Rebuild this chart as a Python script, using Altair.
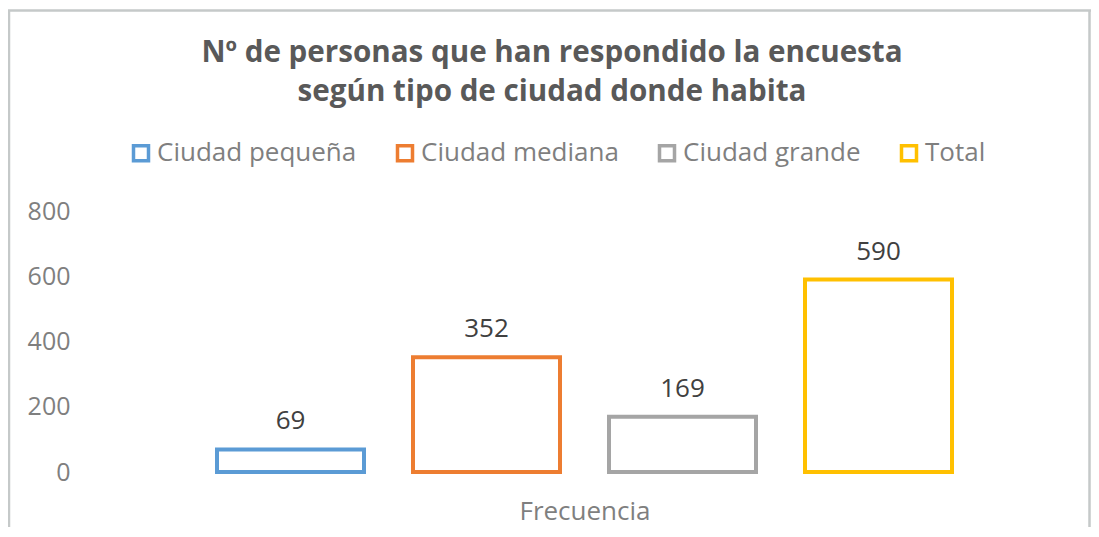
import altair as alt
import pandas as pd

categorias = ["Ciudad pequeña", "Ciudad mediana", "Ciudad grande", "Total"]
valores = [69, 352, 169, 590]
colores = ["#5B9BD5", "#ED7D31", "#A5A5A5", "#FFC000"]
ticks_y = [0, 200, 400, 600, 800]
titulo = ["Nº de personas que han respondido la encuesta",
          "según tipo de ciudad donde habita"]

df = pd.DataFrame({"serie": categorias, "valor": valores})
one_df = pd.DataFrame({"k": [0]})

FONT = "Open Sans"

base = alt.Chart(df)

bars = base.mark_bar(fill="white", strokeWidth=4).encode(
    x=alt.X(
        "serie:N",
        sort=categorias,
        scale=alt.Scale(paddingInner=0.25, paddingOuter=0.5),
        axis=alt.Axis(
            title="Frecuencia",
            labels=False,
            ticks=False,
            domain=False,
            grid=False,
            titleFont=FONT,
            titleFontSize=26,
            titleFontWeight="normal",
            titleColor="#7f7f7f",
            titlePadding=26,
        ),
    ),
    y=alt.Y(
        "valor:Q",
        scale=alt.Scale(domain=[0, 800], nice=False),
        axis=alt.Axis(
            title=None,
            values=ticks_y,
            grid=False,
            domain=False,
            ticks=False,
            labelFont=FONT,
            labelFontSize=25,
            labelColor="#7f7f7f",
            labelPadding=49,
        ),
    ),
    stroke=alt.Stroke(
        "serie:N",
        sort=categorias,
        scale=alt.Scale(domain=categorias, range=colores),
        legend=alt.Legend(
            title=None,
            orient="none",
            direction="horizontal",
            legendX=9,
            legendY=-71,
            padding=0,
            symbolType="square",
            symbolSize=225,
            symbolFillColor="white",
            symbolStrokeWidth=3.5,
            labelFont=FONT,
            labelFontSize=26,
            labelColor="#7f7f7f",
            labelOffset=3,
            labelLimit=400,
            columnPadding=33,
        ),
    ),
)

labels = base.mark_text(
    dy=-20, baseline="alphabetic", font=FONT, fontSize=26, color="#404040"
).encode(
    x=alt.X("serie:N", sort=categorias),
    y="valor:Q",
    text="valor:Q",
)

title_mark = alt.Chart(one_df).mark_text(
    text=titulo,
    font=FONT,
    fontSize=29.6,
    fontWeight="bold",
    color="#595959",
    lineHeight=39,
    align="center",
    baseline="alphabetic",
).encode(x=alt.value(433), y=alt.value(-149))

fc = "#c5c9c9"
fw = 2.5
left_line = alt.Chart(one_df).mark_rule(color=fc, strokeWidth=fw).encode(
    x=alt.value(-110), y=alt.value(-200.5), y2=alt.value(320)
)
right_line = alt.Chart(one_df).mark_rule(color=fc, strokeWidth=fw).encode(
    x=alt.value(970.5), y=alt.value(-200.5), y2=alt.value(320)
)
top_line = alt.Chart(one_df).mark_rule(color=fc, strokeWidth=fw).encode(
    x=alt.value(-111), x2=alt.value(972), y=alt.value(-200.5)
)

chart = (
    alt.layer(left_line, right_line, top_line, title_mark, bars, labels)
    .properties(
        width=931,
        height=261,
        view=alt.ViewBackground(stroke="transparent", strokeOpacity=0),
        autosize=alt.AutoSizeParams(type="none"),
        padding={"left": 111, "top": 203, "right": 41, "bottom": 55},
    )
    .configure_view(stroke="transparent", strokeOpacity=0, strokeWidth=0)
    .configure(background="white")
)

chart.save("out.html", embed_options={"renderer": "svg", "actions": False})
